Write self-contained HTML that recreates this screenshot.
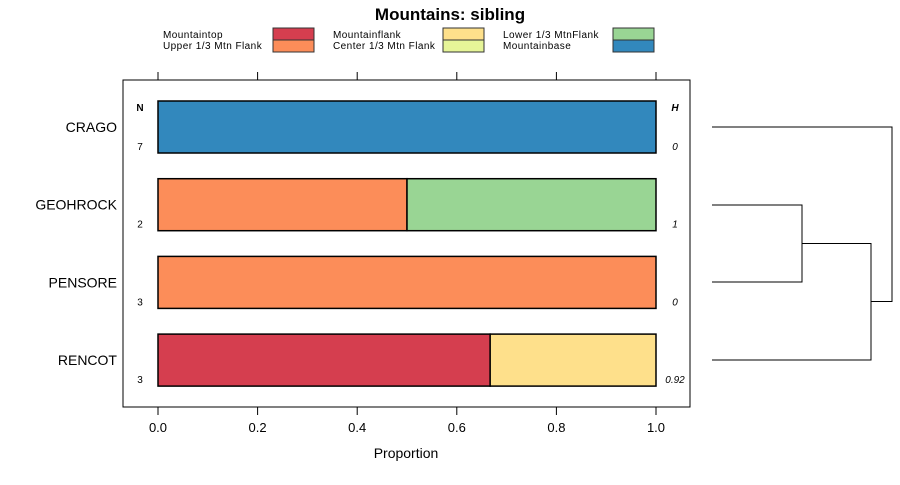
<!DOCTYPE html>
<html><head><meta charset="utf-8"><style>body{margin:0;background:#fff}svg{font-family:"Liberation Sans",sans-serif}</style></head>
<body>
<svg id="c" width="900" height="480">
<text x="450" y="20" text-anchor="middle" font-size="17" font-weight="bold">Mountains: sibling</text>
<g id="legend"></g>
<rect x="123" y="80" width="567" height="327" fill="none" stroke="#000"/>
<g id="plot"></g>
<text x="406" y="458" text-anchor="middle" font-size="14">Proportion</text>
<text x="140" y="111" text-anchor="middle" font-size="10" font-weight="bold">N</text>
<text x="675" y="111" text-anchor="middle" font-size="10" font-weight="bold" font-style="italic">H</text>
<g fill="none" stroke="#000">
<path d="M712 205H802V282H712M802 243.5H871V360H712M871 301.5H892V127H712"/>
</g>
</svg>
<script>
const ns="http://www.w3.org/2000/svg";
const colors=["#D53E4F","#FC8D59","#FEE08B","#E6F598","#99D594","#3288BD"];
const legendLabels=["Mountaintop","Upper 1/3 Mtn Flank","Mountainflank","Center 1/3 Mtn Flank","Lower 1/3 MtnFlank","Mountainbase"];
const categories=["CRAGO","GEOHROCK","PENSORE","RENCOT"];
const nValues=["7","2","3","3"];
const hValues=["0","1","0","0.92"];
const s0=[0,0,0,0.667];
const s1=[0,0.5,1,0];
const s2=[0,0,0,0.333];
const s3=[0,0,0,0];
const s4=[0,0.5,0,0];
const s5=[1,0,0,0];
const series=[s0,s1,s2,s3,s4,s5];
const ticks=[0,0.2,0.4,0.6,0.8,1.0];
const X=v=>158+v*498;
const Y=i=>127+i*77.7;
function mk(t,a,p){const e=document.createElementNS(ns,t);for(const k in a)e.setAttribute(k,a[k]);p.appendChild(e);return e;}
const plot=document.getElementById('plot'),svg=document.getElementById('c'),lg=document.getElementById('legend');
legendLabels.forEach((l,i)=>{const col=Math.floor(i/2),row=i%2;const lx=163+col*170,ly=38+row*11;
const t=mk('text',{x:lx,y:ly,'font-size':10,'letter-spacing':0.45},lg);t.textContent=l;


const r=mk('rect',{x:273+col*170,y:28+row*12,width:41,height:12,fill:colors[i],stroke:'#333'},lg);

});
ticks.forEach(v=>{const x=X(v);
mk('line',{x1:x,x2:x,y1:407,y2:415,stroke:'#000'},svg);
mk('line',{x1:x,x2:x,y1:72,y2:80,stroke:'#000'},svg);
const t=mk('text',{x:x,y:432,'text-anchor':'middle','font-size':13},svg);t.textContent=v.toFixed(1);

});
categories.forEach((c,i)=>{const y=Y(i);
const t=mk('text',{x:117,y:y+5,'text-anchor':'end','font-size':14},svg);t.textContent=c;


let acc=0;series.forEach((s,k)=>{if(s[i]>0){const r=mk('rect',{x:X(acc),y:y-26,width:X(acc+s[i])-X(acc),height:52,fill:colors[k],stroke:'#000','stroke-width':1.5},plot);

acc+=s[i];}});
const n=mk('text',{x:140,y:y+23,'text-anchor':'middle','font-size':10},svg);n.textContent=nValues[i];


const h=mk('text',{x:675,y:y+23,'text-anchor':'middle','font-size':10,'font-style':'italic'},svg);h.textContent=hValues[i];

});
</script>
</body></html>
